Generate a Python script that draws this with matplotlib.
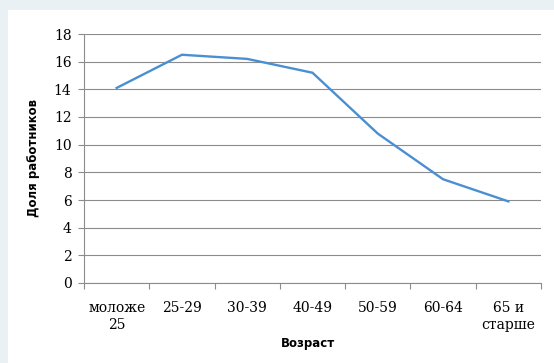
import matplotlib.pyplot as plt
from matplotlib.patches import Rectangle
from matplotlib.ticker import FixedLocator, NullFormatter

# data
age_groups = ["моложе\n25", "25-29", "30-39", "40-49", "50-59", "60-64", "65 и\nстарше"]
share = [14.1, 16.5, 16.2, 15.2, 10.8, 7.5, 5.9]
y_ticks = [0, 2, 4, 6, 8, 10, 12, 14, 16, 18]

fig = plt.figure(figsize=(5.54, 3.63), dpi=100, facecolor="#eaf1f4")
# white chart box, kept behind the axes
fig.patches.append(Rectangle((8 / 554, 0), 1, 1 - 10 / 363, transform=fig.transFigure,
                             facecolor="white", edgecolor="none", zorder=-10))

ax = fig.add_axes([84 / 554, 80 / 363, 457 / 554, 249 / 363])
ax.set_facecolor("white")

x = list(range(len(age_groups)))
ax.plot(x, share, color="#4a8fd2", lw=1.7, zorder=3, solid_joinstyle="miter")

ax.set_xlim(-0.5, len(age_groups) - 0.5)
ax.set_ylim(0, 18)
ax.set_yticks(y_ticks)
ax.set_xticks(x)
ax.set_xticklabels(age_groups, fontfamily="DejaVu Serif", fontsize=10, linespacing=1.25)
ax.xaxis.set_minor_locator(FixedLocator([i - 0.5 for i in range(len(age_groups) + 1)]))
ax.xaxis.set_minor_formatter(NullFormatter())
ax.tick_params(axis="x", which="major", length=0, pad=13)
ax.tick_params(axis="x", which="minor", length=4, color="#8c8c8c", width=0.8)
ax.tick_params(axis="y", length=4, color="#8c8c8c", width=0.8, pad=5)
for lab in ax.get_yticklabels():
    lab.set_fontfamily("DejaVu Serif")
    lab.set_fontsize(10)

ax.grid(axis="y", color="#8c8c8c", lw=0.8)
ax.set_axisbelow(True)
for s in ["top", "right"]:
    ax.spines[s].set_visible(False)
ax.spines["left"].set_color("#8c8c8c")
ax.spines["bottom"].set_color("#8c8c8c")
ax.spines["left"].set_linewidth(0.8)
ax.spines["bottom"].set_linewidth(0.8)

fig.text(308 / 554, 1 - 343 / 363, "Возраст", ha="center", va="center",
         fontsize=8.5, fontweight="bold", fontfamily="DejaVu Sans")
fig.text(34 / 554, 1 - 158 / 363, "Доля работников", ha="center", va="center",
         rotation=90, fontsize=8.5, fontweight="bold", fontfamily="DejaVu Sans")

fig.savefig("out.png", dpi=100, facecolor=fig.get_facecolor())
